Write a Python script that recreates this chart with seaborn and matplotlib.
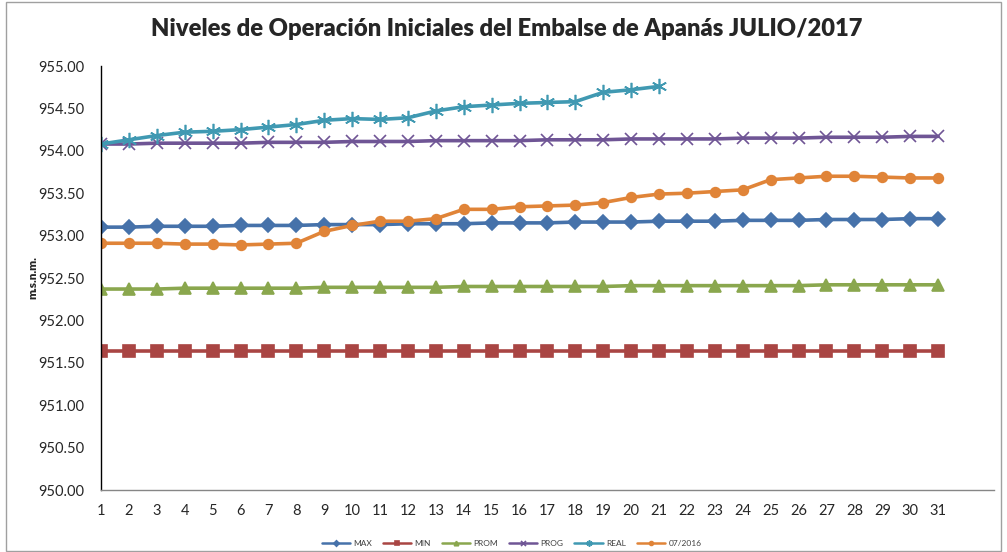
import numpy as np
import pandas as pd
import matplotlib
matplotlib.use('Agg')
import matplotlib.pyplot as plt
import seaborn as sns
from matplotlib.patches import Rectangle

# Data
days = list(range(1, 32))
max_lvl = [953.10, 953.10, 953.11, 953.11, 953.11, 953.12, 953.12, 953.12, 953.13, 953.13,
           953.13, 953.14, 953.14, 953.14, 953.15, 953.15, 953.15, 953.16, 953.16, 953.16,
           953.17, 953.17, 953.17, 953.18, 953.18, 953.18, 953.19, 953.19, 953.19, 953.20, 953.20]
min_lvl = [951.64] * 31
prom_lvl = [952.37, 952.37, 952.37, 952.38, 952.38, 952.38, 952.38, 952.38, 952.39, 952.39,
            952.39, 952.39, 952.39, 952.40, 952.40, 952.40, 952.40, 952.40, 952.40, 952.41,
            952.41, 952.41, 952.41, 952.41, 952.41, 952.41, 952.42, 952.42, 952.42, 952.42, 952.42]
prog_lvl = [954.08, 954.08, 954.09, 954.09, 954.09, 954.09, 954.10, 954.10, 954.10, 954.11,
            954.11, 954.11, 954.12, 954.12, 954.12, 954.12, 954.13, 954.13, 954.13, 954.14,
            954.14, 954.14, 954.14, 954.15, 954.15, 954.15, 954.16, 954.16, 954.16, 954.17, 954.17]
real_lvl = [954.08, 954.13, 954.18, 954.22, 954.23, 954.25, 954.28, 954.31, 954.36, 954.38,
            954.37, 954.39, 954.47, 954.52, 954.54, 954.56, 954.57, 954.58, 954.69, 954.72, 954.76]
lvl_2016 = [952.91, 952.91, 952.91, 952.90, 952.90, 952.89, 952.90, 952.91, 953.05, 953.12,
            953.17, 953.17, 953.20, 953.31, 953.31, 953.34, 953.35, 953.36, 953.39, 953.45,
            953.49, 953.50, 953.52, 953.54, 953.66, 953.68, 953.70, 953.70, 953.69, 953.68, 953.68]

series = [
    ('MAX', max_lvl, '#4672AA', 'D', 7),
    ('MIN', min_lvl, '#A94543', 's', 8),
    ('PROM', prom_lvl, '#8AA74E', '^', 8),
    ('PROG', prog_lvl, '#6F5595', 'x', 9),
    ('REAL', real_lvl, '#4099B2', (6, 2, 0), 11),
    ('07/2016', lvl_2016, '#E08438', 'o', 7),
]

sns.set_style('white')
plt.rcParams['font.family'] = ['Lato', 'DejaVu Sans']

fig = plt.figure(figsize=(10.07, 5.52), dpi=100)
ax = fig.add_axes([0.1003, 0.1123, 0.8867, 0.7681])

for name, vals, color, mk, ms in series:
    sns.lineplot(x=days[:len(vals)], y=vals, ax=ax, color=color, marker=mk, markersize=ms,
                 markeredgecolor=color, markeredgewidth=1.2, linewidth=2.6, label=name)

ax.set_xlim(1, 33)
ax.set_ylim(950, 955)
ax.set_xticks(range(1, 34))
ax.set_xticklabels([str(d) for d in days] + ['', ''], fontsize=10.5)
ax.set_yticks(np.arange(950, 955.01, 0.5))
ax.set_yticklabels([f'{v:.2f}' for v in np.arange(950, 955.01, 0.5)], fontsize=10.5)
ax.tick_params(axis='y', length=0, pad=12)
ax.tick_params(axis='x', length=4, width=1, color='#868686', direction='out', pad=6)

sns.despine(ax=ax)
ax.spines['left'].set_color('black')
ax.spines['left'].set_linewidth(1)
ax.spines['bottom'].set_color('#868686')
ax.spines['bottom'].set_linewidth(1)

ax.set_ylabel('m.s.n.m.', fontsize=8.5, fontweight='heavy')
ax.yaxis.set_label_coords(-0.07, 0.5)
ax.set_xlabel('')

fig.suptitle('Niveles de Operación Iniciales del Embalse de Apanás JULIO/2017',
             fontsize=17.1, fontweight='heavy', x=0.503, y=0.967)

leg = ax.legend(loc='center', bbox_to_anchor=(0.508, 0.016), bbox_transform=fig.transFigure,
                ncol=6, fontsize=6, frameon=False, handlelength=3.4, markerscale=0.4,
                columnspacing=1.3, handletextpad=0.4)
for line in leg.get_lines():
    line.set_linewidth(1.8)
for txt in leg.get_texts():
    txt.set_color('#404040')

fig.patches.append(Rectangle((6 / 1007, 0.002), 0.994 - 6 / 1007, 0.994,
                             transform=fig.transFigure, fill=False,
                             edgecolor='#A0A0A0', linewidth=1))

fig.savefig('out.png', dpi=100)
